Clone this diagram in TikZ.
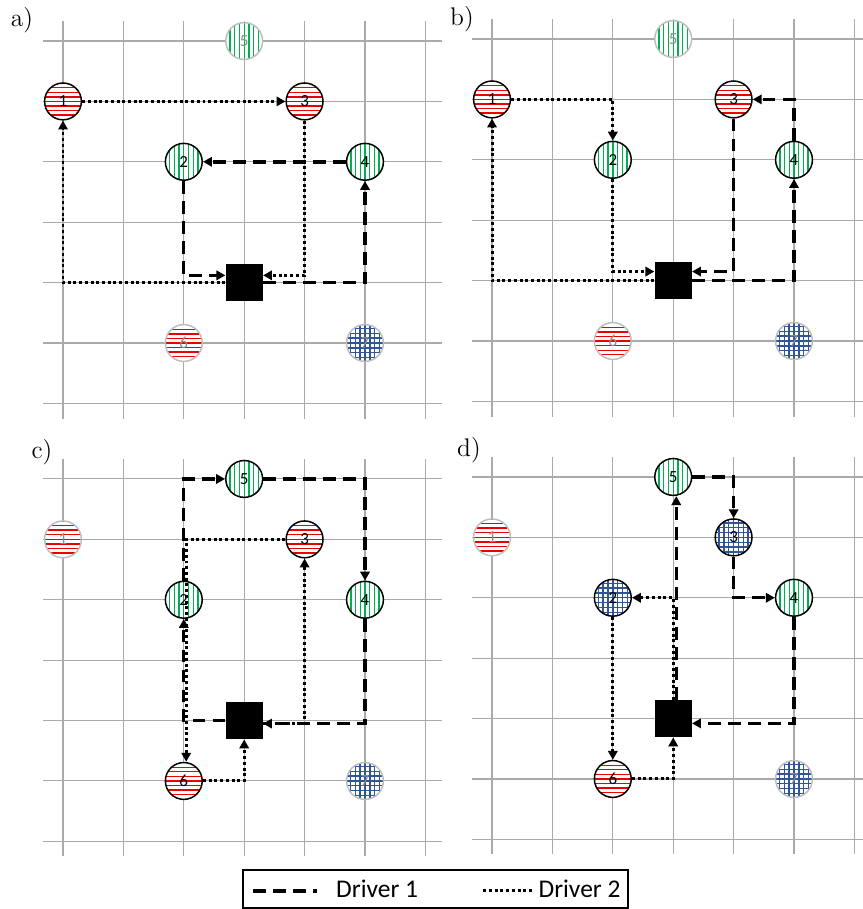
\documentclass[tikz,border=0pt]{standalone}
\usepackage{fontspec}
\newfontfamily\calib{Carlito}
\usetikzlibrary{arrows.meta}
\definecolor{stopred}{RGB}{235,0,0}
\definecolor{stopgreen}{RGB}{0,176,80}
\definecolor{stopblue}{RGB}{47,85,151}
\definecolor{gridgray}{RGB}{170,170,170}
\definecolor{fadegray}{RGB}{190,190,190}
\tikzset{
    %Define standard arrow tip
    >={Triangle[length=4.2pt,width=4.4pt]},
}
\tikzset{
    stopnode/.style={circle, draw, fill=white, line width=0.7pt, minimum size=0.61cm,
                     inner sep=0pt, font=\calib\fontsize{8}{8}\selectfont},
    redfill/.style={path picture={
        \foreach \k in {-4,...,4}
          \draw[stopred, line width=0.65pt]
            ([yshift=\k*0.076cm]path picture bounding box.west) --
            ([yshift=\k*0.076cm]path picture bounding box.east);
      }},
    greenfill/.style={path picture={
        \foreach \k in {-4,...,4}
          \draw[stopgreen, line width=0.65pt]
            ([xshift=\k*0.078cm]path picture bounding box.south) --
            ([xshift=\k*0.078cm]path picture bounding box.north);
      }},
    bluefill/.style={path picture={
        \foreach \k in {-4,...,4} {
          \draw[stopblue, line width=0.65pt]
            ([yshift=\k*0.08cm]path picture bounding box.west) --
            ([yshift=\k*0.08cm]path picture bounding box.east);
          \draw[stopblue, line width=0.65pt]
            ([xshift=\k*0.08cm]path picture bounding box.south) --
            ([xshift=\k*0.08cm]path picture bounding box.north);
        }
      }},
    faded/.style={draw=fadegray, text=black!45},
}

\begin{document}
\begin{tikzpicture}[
    gridline/.style = {gridgray, line width=0.5pt},
    depotnode/.style = {rectangle, fill=black, minimum size=0.61cm, inner sep=0pt},
    drv1/.style = {line width=1.6pt, dash pattern=on 6pt off 3.4pt},
    drv2/.style = {line width=1.4pt, dash pattern=on 1.4pt off 1.3pt},
    panellabel/.style = {font=\fontsize{12}{14}\selectfont, inner sep=0pt},
    legendtext/.style = {font=\calib\fontsize{12}{14}\selectfont, inner sep=0pt},
  ]
  \useasboundingbox (0,0) rectangle (14.288,-15.05);

  % grids of the four panels
  \foreach \ox/\oy in {1.043/-0.679, 8.146/-0.646, 1.043/-7.930, 8.146/-7.897} {
    \foreach \c in {0,...,6}
      \draw[gridline] (\ox+\c,\oy+0.33) -- (\ox+\c,\oy-6.25);
    \foreach \r in {0,...,6}
      \draw[gridline] (\ox-0.33,\oy-\r) -- (\ox+6.27,\oy-\r);
  }

  \node[panellabel] (la) at (0.364,-0.331) {a)};
  \node[panellabel] (lb) at (7.649,-0.315) {b)};
  \node[panellabel] (lc) at (0.695,-7.483) {c)};
  \node[panellabel] (ld) at (7.765,-7.450) {d)};

  % a)
  \begin{scope}[shift={(1.043,-0.679)}]
    \node[depotnode] (adep) at (3,-4) {};
    \node[stopnode, redfill] (a1) at (0,-1) {1};
    \node[stopnode, greenfill] (a2) at (2,-2) {2};
    \node[stopnode, redfill] (a3) at (4,-1) {3};
    \node[stopnode, greenfill] (a4) at (5,-2) {4};
    \node[stopnode, greenfill, faded] (a5) at (3,0) {5};
    \node[stopnode, redfill, faded] (a6) at (2,-5) {6};
    \node[stopnode, bluefill, faded] (a7) at (5,-5) {7};
    \draw[drv1,->] (adep.east) -| (a4);
    \draw[drv1,->] (a4) -- (a2);
    \draw[drv1,->] (a2) |- ([yshift=0.12cm]adep.west);
    \draw[drv2,->] (adep.west) -| (a1);
    \draw[drv2,->] (a1) -- (a3);
    \draw[drv2,->] (a3) |- ([yshift=0.12cm]adep.east);
  \end{scope}

  % b)
  \begin{scope}[shift={(8.146,-0.646)}]
    \node[depotnode] (bdep) at (3,-4) {};
    \node[stopnode, redfill] (b1) at (0,-1) {1};
    \node[stopnode, greenfill] (b2) at (2,-2) {2};
    \node[stopnode, redfill] (b3) at (4,-1) {3};
    \node[stopnode, greenfill] (b4) at (5,-2) {4};
    \node[stopnode, greenfill, faded] (b5) at (3,0) {5};
    \node[stopnode, redfill, faded] (b6) at (2,-5) {6};
    \node[stopnode, bluefill, faded] (b7) at (5,-5) {7};
    \draw[drv1,->] (bdep.east) -| (b4);
    \draw[drv1,->] (b4) |- (b3);
    \draw[drv1,->] (b3) |- ([yshift=0.15cm]bdep.east);
    \draw[drv2,->] (bdep.west) -| (b1);
    \draw[drv2,->] (b1) -| (b2);
    \draw[drv2,->] (b2) |- ([yshift=0.15cm]bdep.west);
  \end{scope}

  % c)
  \begin{scope}[shift={(1.043,-7.930)}]
    \node[depotnode] (cdep) at (3,-4) {};
    \node[stopnode, redfill, faded] (c1) at (0,-1) {1};
    \node[stopnode, greenfill] (c2) at (2,-2) {2};
    \node[stopnode, redfill] (c3) at (4,-1) {3};
    \node[stopnode, greenfill] (c4) at (5,-2) {4};
    \node[stopnode, greenfill] (c5) at (3,0) {5};
    \node[stopnode, redfill] (c6) at (2,-5) {6};
    \node[stopnode, bluefill, faded] (c7) at (5,-5) {7};
    \draw[drv1,->] (cdep.west) -| (c2);
    \draw[drv1,->] (c2) |- (c5);
    \draw[drv1,->] (c5) -| (c4);
    \draw[drv1,->] (c4) |- ([yshift=-0.05cm]cdep.east);
    \draw[drv2,->] ([yshift=-0.05cm]cdep.east) -| (c3);
    \draw[drv2,->] (c3) -| ([xshift=0.04cm]c6.north);
    \draw[drv2,->] (c6) -| (cdep.south);
  \end{scope}

  % d)
  \begin{scope}[shift={(8.146,-7.897)}]
    \node[depotnode] (ddep) at (3,-4) {};
    \node[stopnode, redfill, faded] (d1) at (0,-1) {1};
    \node[stopnode, bluefill] (d2) at (2,-2) {2};
    \node[stopnode, bluefill] (d3) at (4,-1) {3};
    \node[stopnode, greenfill] (d4) at (5,-2) {4};
    \node[stopnode, greenfill] (d5) at (3,0) {5};
    \node[stopnode, redfill] (d6) at (2,-5) {6};
    \node[stopnode, bluefill, faded] (d7) at (5,-5) {7};
    \draw[drv1,->] ([xshift=0.05cm]ddep.north) -- ([xshift=0.05cm]d5.south);
    \draw[drv1,->] (d5) -| (d3);
    \draw[drv1,->] (d3) |- (d4);
    \draw[drv1,->] (d4) |- ([yshift=-0.08cm]ddep.east);
    \draw[drv2,->] (ddep.north) |- (d2);
    \draw[drv2,->] (d2) -- (d6);
    \draw[drv2,->] (d6) -| (ddep.south);
  \end{scope}

  % legend
  \node[draw, line width=0.7pt, minimum width=6.37cm, minimum height=0.63cm] (legend) at (7.21,-14.72) {};
  \coordinate (l1start) at (4.19,-14.75);
  \coordinate (l1end) at (5.25,-14.75);
  \draw[drv1] (l1start) -- (l1end);
  \node[legendtext, anchor=base west] (l1text) at (5.56,-14.86) {Driver 1};
  \coordinate (l2start) at (8.0,-14.75);
  \coordinate (l2end) at (8.81,-14.75);
  \draw[drv2] (l2start) -- (l2end);
  \node[legendtext, anchor=base west] (l2text) at (8.91,-14.86) {Driver 2};
\end{tikzpicture}
\end{document}
